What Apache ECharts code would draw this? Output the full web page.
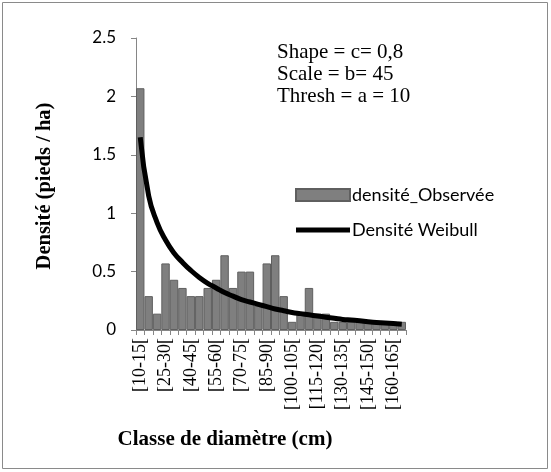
<!DOCTYPE html>
<html>
<head>
<meta charset="utf-8">
<script src="https://cdn.jsdelivr.net/npm/echarts@6/dist/echarts.min.js"></script>
<style>
html,body{margin:0;padding:0;background:#fff;}
#c{width:551px;height:472px;}
</style>
</head>
<body>
<div id="c"></div>
<script>
var categories = ['[10-15[','[15-20[','[20-25[','[25-30[','[30-35[','[35-40[','[40-45[','[45-50[',
  '[50-55[','[55-60[','[60-65[','[65-70[','[70-75[','[75-80[','[80-85[','[85-90[',
  '[90-95[','[95-100[','[100-105[','[105-110[','[110-115[','[115-120[','[120-125[','[125-130[',
  '[130-135[','[135-140[','[140-145[','[145-150[','[150-155[','[155-160[','[160-165[','[165-170['];
var observed = [2.07,0.29,0.14,0.57,0.43,0.36,0.29,0.29,0.36,0.43,0.64,0.36,0.50,0.50,0.21,0.57,
  0.64,0.29,0.07,0.14,0.36,0.14,0.14,0.07,0.07,0.07,0.07,0.07,0.07,0.07,0.07,0.07];
var weibull = [1.65,1.15,0.92,0.77,0.66,0.58,0.51,0.45,0.40,0.36,0.32,0.29,0.26,0.24,0.22,0.20,
  0.18,0.165,0.15,0.14,0.13,0.12,0.11,0.10,0.09,0.085,0.08,0.07,0.065,0.06,0.055,0.05];
var yTicks = {min:0, max:2.5, interval:0.5};
var paramLines = ['Shape = c= 0,8','Scale = b= 45','Thresh = a = 10'];

var chart = echarts.init(document.getElementById('c'));
chart.setOption({
  animation:false,
  backgroundColor:'#fff',
  grid:{left:136,right:145,top:38,bottom:142,containLabel:false},
  legend:{
    orient:'vertical', left:290, top:181, itemGap:17,
    itemWidth:54, itemHeight:12,
    textStyle:{fontFamily:'Lato',fontSize:18,color:'#000',padding:[0,0,0,-3]},
    data:[
      {name:'densité_Observée',icon:'rect'},
      {name:'Densité Weibull',icon:'path://M0,0 L54,0 L54,5 L0,5 Z',itemStyle:{color:'#000',borderWidth:0}}
    ]
  },
  xAxis:{
    type:'category', data:categories, boundaryGap:true,
    axisLine:{lineStyle:{color:'#868686',width:1}},
    axisTick:{show:true,interval:0,length:5,lineStyle:{color:'#868686'}},
    axisLabel:{interval:2,rotate:90,fontFamily:'Liberation Serif',fontSize:18,color:'#000',margin:8}
  },
  yAxis:{
    type:'value', min:yTicks.min, max:yTicks.max, interval:yTicks.interval,
    splitLine:{show:false},
    axisLine:{show:true,lineStyle:{color:'#868686',width:1}},
    axisTick:{show:true,length:5,lineStyle:{color:'#868686'}},
    axisLabel:{fontFamily:'Lato',fontSize:17,color:'#000',margin:20}
  },
  series:[
    {name:'densité_Observée',type:'bar',data:observed,barCategoryGap:'0%',
     itemStyle:{color:'#7f7f7f',borderColor:'#5f5f5f',borderWidth:1}},
    {name:'Densité Weibull',type:'line',data:weibull,smooth:true,symbol:'none',showSymbol:false,
     lineStyle:{color:'#000',width:5},itemStyle:{color:'#000'}}
  ],
  graphic:[
    {type:'rect',shape:{x:2.5,y:2.5,width:545,height:466},style:{fill:'none',stroke:'#8a8a8a',lineWidth:1},silent:true},
    {type:'text',x:277,y:52,style:{text:paramLines[0],font:'21px "Liberation Serif"',fill:'#000',textVerticalAlign:'middle'}},
    {type:'text',x:277,y:74,style:{text:paramLines[1],font:'21px "Liberation Serif"',fill:'#000',textVerticalAlign:'middle'}},
    {type:'text',x:277,y:96,style:{text:paramLines[2],font:'21px "Liberation Serif"',fill:'#000',textVerticalAlign:'middle'}},
    {type:'text',x:225,y:440,style:{text:'Classe de diamètre (cm)',font:'bold 21px "Liberation Serif"',fill:'#000',textAlign:'center',textVerticalAlign:'middle'}},
    {type:'text',x:45,y:186,rotation:Math.PI/2,style:{text:'Densité (pieds / ha)',font:'bold 20.5px "Liberation Serif"',fill:'#000',textAlign:'center',textVerticalAlign:'middle'}}
  ]
});
</script>
</body>
</html>
